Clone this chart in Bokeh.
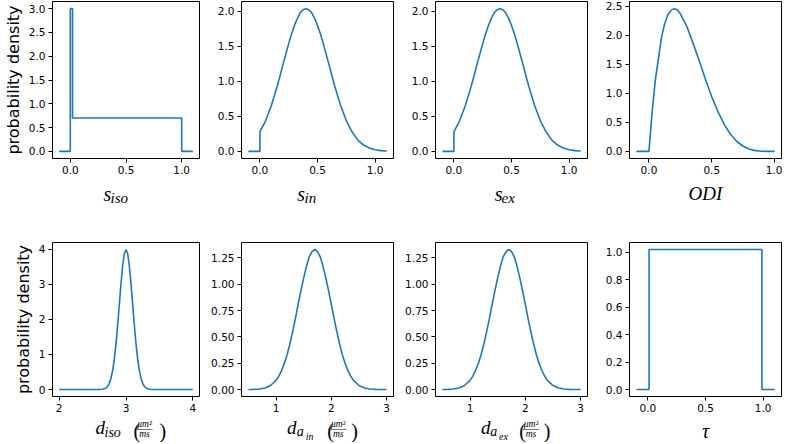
from bokeh.plotting import figure
from bokeh.layouts import gridplot
from bokeh.models import Range1d, FixedTicker, PrintfTickFormatter
from bokeh.core.properties import value
from bokeh.embed import file_html
from bokeh.resources import INLINE

# ---------------- data ----------------
s_iso_x = [-0.1, 0.0, 0.0, 0.02, 0.02, 1.0, 1.0, 1.1]
s_iso_y = [0.0, 0.0, 3.0, 3.0, 0.7, 0.7, 0.0, 0.0]

s_in_x = [-0.1, 0.0, 0.0, 0.05, 0.1, 0.15, 0.175, 0.2, 0.225, 0.25, 0.275, 0.3, 0.325, 0.35,
          0.375, 0.4, 0.425, 0.45, 0.475, 0.5, 0.525, 0.55, 0.575, 0.6, 0.625, 0.65, 0.7,
          0.75, 0.8, 0.85, 0.9, 0.95, 1.0, 1.05, 1.1]
s_in_y = [0.0, 0.0, 0.28, 0.44, 0.66, 0.93, 1.08, 1.24, 1.39, 1.54, 1.68, 1.80, 1.90, 1.98,
          2.025, 2.04, 2.025, 1.98, 1.90, 1.80, 1.68, 1.54, 1.39, 1.24, 1.08, 0.93, 0.66,
          0.44, 0.28, 0.16, 0.09, 0.047, 0.023, 0.010, 0.005]

s_ex_x = [-0.1, 0.0, 0.0, 0.05, 0.1, 0.15, 0.175, 0.2, 0.225, 0.25, 0.275, 0.3, 0.325, 0.35,
          0.375, 0.4, 0.425, 0.45, 0.475, 0.5, 0.525, 0.55, 0.575, 0.6, 0.625, 0.65, 0.7,
          0.75, 0.8, 0.85, 0.9, 0.95, 1.0, 1.05, 1.1]
s_ex_y = [0.0, 0.0, 0.28, 0.44, 0.66, 0.93, 1.08, 1.24, 1.39, 1.54, 1.68, 1.80, 1.90, 1.98,
          2.025, 2.04, 2.025, 1.98, 1.90, 1.80, 1.68, 1.54, 1.39, 1.24, 1.08, 0.93, 0.66,
          0.44, 0.28, 0.16, 0.09, 0.047, 0.023, 0.010, 0.005]

odi_x = [-0.1, 0.0, 0.025, 0.05, 0.1, 0.125, 0.15, 0.175, 0.2, 0.225, 0.25, 0.3, 0.35, 0.4,
         0.45, 0.5, 0.55, 0.6, 0.65, 0.7, 0.75, 0.8, 0.85, 0.9, 0.95, 1.0]
odi_y = [0.0, 0.0, 0.68, 1.22, 1.97, 2.20, 2.35, 2.43, 2.46, 2.44, 2.37, 2.16, 1.87, 1.56,
         1.24, 0.94, 0.68, 0.46, 0.29, 0.17, 0.088, 0.038, 0.013, 0.003, 0.0002, 0.0]

d_iso_x = [2.0, 2.5, 2.6, 2.65, 2.7, 2.725, 2.75, 2.775, 2.8, 2.825, 2.85, 2.875, 2.9, 2.925,
           2.95, 2.975, 3.0, 3.025, 3.05, 3.075, 3.1, 3.125, 3.15, 3.175, 3.2, 3.225, 3.25,
           3.275, 3.3, 3.35, 3.4, 3.5, 4.0]
d_iso_y = [0.0, 0.0, 0.001, 0.009, 0.044, 0.091, 0.175, 0.32, 0.54, 0.86, 1.30, 1.83, 2.42,
           3.01, 3.52, 3.87, 3.99, 3.87, 3.52, 3.01, 2.42, 1.83, 1.30, 0.86, 0.54, 0.32, 0.175,
           0.091, 0.044, 0.009, 0.001, 0.0, 0.0]

d_ain_x = [0.5, 0.6, 0.7, 0.8, 0.9, 1.0, 1.05, 1.1, 1.15, 1.2, 1.25, 1.3, 1.35, 1.4, 1.45,
           1.5, 1.55, 1.6, 1.65, 1.7, 1.75, 1.8, 1.85, 1.9, 1.95, 2.0, 2.05, 2.1, 2.15, 2.2,
           2.25, 2.3, 2.35, 2.4, 2.5, 2.6, 2.7, 2.8, 2.9, 3.0]
d_ain_y = [0.0005, 0.0016, 0.005, 0.015, 0.038, 0.087, 0.127, 0.18, 0.248, 0.33, 0.432,
           0.55, 0.673, 0.81, 0.94, 1.06, 1.17, 1.26, 1.31, 1.33, 1.31, 1.26, 1.17, 1.06, 0.94,
           0.81, 0.673, 0.55, 0.432, 0.33, 0.248, 0.18, 0.127, 0.087, 0.038, 0.015, 0.005,
           0.0016, 0.0005, 0.0001]

d_aex_x = [0.5, 0.6, 0.7, 0.8, 0.9, 1.0, 1.05, 1.1, 1.15, 1.2, 1.25, 1.3, 1.35, 1.4, 1.45,
           1.5, 1.55, 1.6, 1.65, 1.7, 1.75, 1.8, 1.85, 1.9, 1.95, 2.0, 2.05, 2.1, 2.15, 2.2,
           2.25, 2.3, 2.35, 2.4, 2.5, 2.6, 2.7, 2.8, 2.9, 3.0]
d_aex_y = [0.0005, 0.0016, 0.005, 0.015, 0.038, 0.087, 0.127, 0.18, 0.248, 0.33, 0.432,
           0.55, 0.673, 0.81, 0.94, 1.06, 1.17, 1.26, 1.31, 1.33, 1.31, 1.26, 1.17, 1.06, 0.94,
           0.81, 0.673, 0.55, 0.432, 0.33, 0.248, 0.18, 0.127, 0.087, 0.038, 0.015, 0.005,
           0.0016, 0.0005, 0.0001]

tau_x = [-0.1, 0.01, 0.01, 0.99, 0.99, 1.1]
tau_y = [0.0, 0.0, 1.02, 1.02, 0.0, 0.0]

# tick positions
ticks_01 = [0.0, 0.5, 1.0]
ticks_siso_y = [0.0, 0.5, 1.0, 1.5, 2.0, 2.5, 3.0]
ticks_sin_y = [0.0, 0.5, 1.0, 1.5, 2.0]
ticks_odi_y = [0.0, 0.5, 1.0, 1.5, 2.0, 2.5]
ticks_diso_x = [2, 3, 4]
ticks_diso_y = [0, 1, 2, 3, 4]
ticks_da_x = [1, 2, 3]
ticks_da_y = [0.0, 0.25, 0.5, 0.75, 1.0, 1.25]
ticks_tau_y = [0.0, 0.2, 0.4, 0.6, 0.8, 1.0]

ylabel = "probability density"

# x-axis label pieces (layout only):
# (text, font px, dx from frame centre, wanted baseline px from strip top, italic, align)
SERIF = "Liberation Serif"
lab_siso = [("s", 20, -22.5, 22, True, "left"), ("iso", 15, -15.5, 25, True, "left")]
lab_sin = [("s", 20, -20.2, 22, True, "left"), ("in", 15, -13.0, 25, True, "left")]
lab_sex = [("s", 20, -16.8, 22, True, "left"), ("ex", 15, -10.0, 25, True, "left")]
lab_odi = [("ODI", 19, 0, 22, True, "center")]


def d_label(sub, subsub, dx_sub, dx_subsub, dx_open, dx_frac, dx_close):
    parts = [("d", 19, -30.5, 18, True, "left")]
    if subsub:
        parts.append((sub, 14, dx_sub, 20, True, "left"))
        parts.append((subsub, 10, dx_subsub, 23.5, True, "left"))
    else:
        parts.append((sub, 14, dx_sub, 21, True, "left"))
    parts += [("(", 20, dx_open, 21, False, "left"),
              ("\u03bcm\u00b2", 9.5, dx_frac, 11, True, "center"),
              ("\u2014\u2014", 8, dx_frac, 15, False, "center"),
              ("ms", 9.5, dx_frac, 21, True, "center"),
              (")", 20, dx_close, 21, False, "left")]
    return parts


lab_diso = d_label("iso", None, -21.5, None, 7.5, 18.5, 33.5)
lab_dain = d_label("a", "in", -20.8, -11.8, 9.8, 20.7, 33.8)
lab_daex = d_label("a", "ex", -21.2, -12.5, 7.8, 19.5, 32.2)
lab_tau = [("\u03c4", 20, 0, 21.5, True, "center")]

panels = [
    (s_iso_x, s_iso_y, ticks_01, ticks_siso_y, "%.1f", "%.1f", lab_siso),
    (s_in_x, s_in_y, ticks_01, ticks_sin_y, "%.1f", "%.1f", lab_sin),
    (s_ex_x, s_ex_y, ticks_01, ticks_sin_y, "%.1f", "%.1f", lab_sex),
    (odi_x, odi_y, ticks_01, ticks_odi_y, "%.1f", "%.1f", lab_odi),
    (d_iso_x, d_iso_y, ticks_diso_x, ticks_diso_y, "%d", "%d", lab_diso),
    (d_ain_x, d_ain_y, ticks_da_x, ticks_da_y, "%d", "%.2f", lab_dain),
    (d_aex_x, d_aex_y, ticks_da_x, ticks_da_y, "%d", "%.2f", lab_daex),
    (tau_x, tau_y, ticks_01, ticks_tau_y, "%.1f", "%.1f", lab_tau),
]

FRAME_W = 152
BASE_SHIFT = 0.35  # text-box baseline correction, in em


def padded(vals):
    lo, hi = min(vals), max(vals)
    pad = 0.05 * (hi - lo)
    return Range1d(lo - pad, hi + pad)


panel_rows = [[], []]
strip_rows = [[], []]
for i, (xs, ys, xt, yt, xf, yf, lab) in enumerate(panels):
    row, col = divmod(i, 4)
    left = 47 if col == 0 else 41
    if row == 0:
        top, frame_h, bottom, strip_h = 1, 157, 20, 56
    else:
        top, frame_h, bottom, strip_h = 8, 154, 20, 26
    w = left + FRAME_W + 1
    xr, yr = padded(xs), padded(ys)
    p = figure(width=w, height=top + frame_h + bottom, output_backend="svg",
               toolbar_location=None, x_range=xr, y_range=yr,
               min_border_left=left, min_border_right=1,
               min_border_top=top, min_border_bottom=bottom)
    p.line(xs, ys, line_color="#1f77b4", line_width=1.6)
    p.grid.visible = False
    p.outline_line_color = "black"
    p.outline_line_width = 1
    p.outline_line_alpha = 1
    p.background_fill_color = "white"
    p.border_fill_color = "white"
    for ax, t, f in ((p.xaxis[0], xt, xf), (p.yaxis[0], yt, yf)):
        ax.ticker = FixedTicker(ticks=t)
        ax.formatter = PrintfTickFormatter(format=f)
        ax.axis_line_color = None
        ax.major_tick_in = 0
        ax.major_tick_out = 4
        ax.major_tick_line_color = "black"
        ax.minor_tick_line_color = None
        ax.major_label_standoff = 3
        ax.major_label_text_font = "DejaVu Sans"
        ax.major_label_text_font_size = "10.5px"
        ax.major_label_text_color = "black"
    if col == 0:
        ya = p.yaxis[0]
        ya.axis_label = ylabel
        ya.axis_label_text_font = "DejaVu Sans"
        ya.axis_label_text_font_style = "normal"
        ya.axis_label_text_font_size = "16px"
        ya.axis_label_text_color = "black"
        ya.axis_label_standoff = 3
    panel_rows[row].append(p)

    # strip below the panel that carries the x-axis label (same x scale)
    s = figure(width=w, height=strip_h, output_backend="svg", toolbar_location=None,
               x_range=xr, y_range=Range1d(strip_h, 0),
               x_axis_type=None, y_axis_type=None,
               min_border_left=left, min_border_right=1,
               min_border_top=0, min_border_bottom=0)
    s.grid.visible = False
    s.outline_line_color = None
    s.background_fill_color = "white"
    s.border_fill_color = "white"
    xc = (xr.start + xr.end) / 2
    for text, size, dx, base, ital, align in lab:
        s.text(x=[xc], y=[base - BASE_SHIFT * size], text=[text], x_offset=dx,
               text_font=value(SERIF), text_font_size=f"{size}px",
               text_font_style="italic" if ital else "normal",
               text_align=align, text_baseline="alphabetic", text_color="black")
    strip_rows[row].append(s)

grid = gridplot([panel_rows[0], strip_rows[0], panel_rows[1], strip_rows[1]],
                toolbar_location=None)

open("out.html", "w").write(file_html(grid, INLINE))
